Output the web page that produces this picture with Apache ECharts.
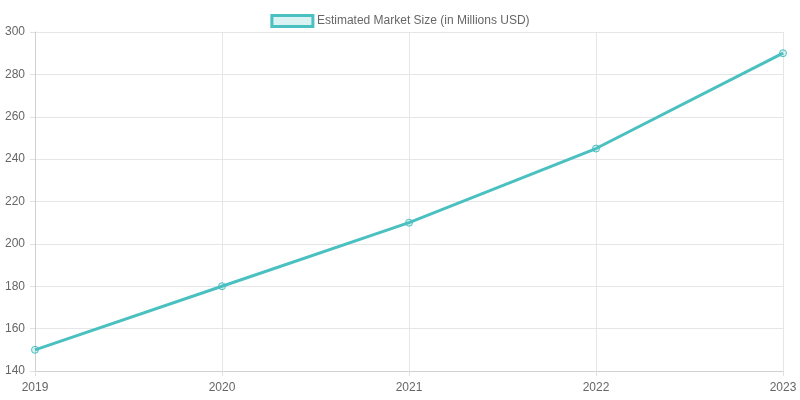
<!DOCTYPE html>
<html>
<head>
<meta charset="utf-8">
<script src="https://cdn.jsdelivr.net/npm/echarts@6/dist/echarts.min.js"></script>
<style>html,body{margin:0;padding:0;background:#fff;}#c{width:800px;height:400px;}</style>
</head>
<body>
<div id="c"></div>
<script>
const categories = ['2019', '2020', '2021', '2022', '2023'];
const marketSize = [150, 180, 210, 245, 290];
const seriesName = 'Estimated Market Size (in Millions USD)';
const yMin = 140, yMax = 300, yStep = 20;

const chart = echarts.init(document.getElementById('c'), null, {renderer: 'canvas'});
const font = 'Liberation Sans, Arial, Helvetica, sans-serif';
chart.setOption({
  animation: false,
  textStyle: {fontFamily: font},
  legend: {
    top: 9,
    left: 'center',
    icon: 'rect',
    itemWidth: 41,
    itemHeight: 11,
    itemGap: 10,
    textStyle: {color: '#666', fontSize: 12, fontFamily: font, padding: [0, 0, 0, -1]},
    data: [{
      name: seriesName,
      itemStyle: {color: 'rgba(75,192,192,0.2)', borderColor: '#4BC0C0', borderWidth: 3}
    }]
  },
  grid: {left: 35, right: 17, top: 32, bottom: 29, containLabel: false},
  xAxis: {
    type: 'category',
    data: categories,
    boundaryGap: false,
    axisLine: {lineStyle: {color: '#d0d0d0'}},
    axisTick: {show: true, length: 5, lineStyle: {color: '#e0e0e0'}},
    axisLabel: {color: '#666', fontSize: 12, margin: 11, fontFamily: font},
    splitLine: {show: true, lineStyle: {color: '#e6e6e6'}}
  },
  yAxis: {
    type: 'value',
    min: yMin, max: yMax, interval: yStep,
    axisLine: {show: true, lineStyle: {color: '#d0d0d0'}},
    axisTick: {show: true, length: 5, lineStyle: {color: '#e0e0e0'}},
    axisLabel: {color: '#666', fontSize: 12, margin: 10, fontFamily: font},
    splitLine: {show: true, lineStyle: {color: '#e6e6e6'}}
  },
  series: [{
    name: seriesName,
    type: 'line',
    data: marketSize,
    symbol: 'circle',
    symbolSize: 7,
    showSymbol: true,
    lineStyle: {color: '#4BC0C0', width: 3},
    itemStyle: {color: 'rgba(75,192,192,0.2)', borderColor: '#4BC0C0', borderWidth: 1}
  }]
});
</script>
</body>
</html>
